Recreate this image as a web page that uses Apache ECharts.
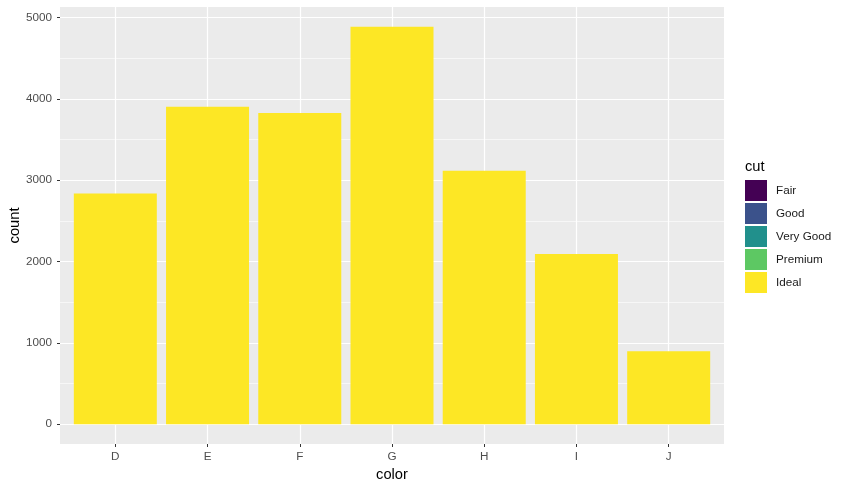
<!DOCTYPE html>
<html>
<head>
<meta charset="utf-8">
<script src="https://cdn.jsdelivr.net/npm/echarts@6/dist/echarts.min.js"></script>
<style>
  html, body { margin: 0; padding: 0; background: #fff; }
  #chart { width: 847px; height: 489px; }
</style>
</head>
<body>
<div id="chart"></div>
<script>
// x categories (diamond colour)
const colors = ['D', 'E', 'F', 'G', 'H', 'I', 'J']
// fill levels (cut) and their viridis colours
const cuts = ['Fair', 'Good', 'Very Good', 'Premium', 'Ideal']
const cutColors = ['#440154', '#3B528B', '#21908C', '#5DC863', '#FDE725']
// only the Ideal bars are visible (drawn last, on top of the others)
const idealCounts = [2834, 3903, 3826, 4884, 3115, 2093, 896]
// hidden levels: not readable from the picture, kept for the legend
const hiddenCounts = []

const yMin = -244.2 // ggplot 5% expansion
const yMax = 5128.2

const labelGrey = '#4D4D4D'
const font = 'Liberation Sans, Arial, sans-serif'

const chart = echarts.init(document.getElementById('chart'))

const option = {
  animation: false,
  textStyle: { fontFamily: font },
  title: {
    text: 'cut',
    left: 745,
    top: 159,
    padding: 0,
    textStyle: { fontSize: 14.7, fontWeight: 'normal', color: '#000', fontFamily: font }
  },
  legend: {
    orient: 'vertical',
    left: 745,
    top: 180,
    padding: 0,
    itemWidth: 22,
    itemHeight: 21,
    itemGap: 2,
    icon: 'rect',
    selectedMode: false,
    data: cuts,
    textStyle: { fontSize: 11.7, color: '#1A1A1A', padding: [0, 0, 0, 4], fontFamily: font }
  },
  grid: [
    // panel
    { left: 60, right: 123, top: 7, bottom: 45, show: true, backgroundColor: '#EBEBEB', borderWidth: 0, outerBoundsMode: 'none' },
    // bars (inset by ggplot's 0.6 discrete expansion vs echarts' 0.5)
    { left: 69.2, right: 132.2, top: 7, bottom: 45, show: false, outerBoundsMode: 'none' }
  ],
  xAxis: [
    {
      // category centres on the panel: D = 0 ... J = 6, expanded by 0.6
      gridIndex: 0,
      type: 'value',
      min: -0.6,
      max: colors.length - 1 + 0.6,
      splitNumber: 7,
      axisLine: { show: false },
      axisTick: { show: false },
      axisLabel: { show: false },
      splitLine: { show: true, showMinLine: false, showMaxLine: false, lineStyle: { color: '#fff', width: 1.2 } }
    },
    {
      gridIndex: 1,
      type: 'category',
      data: colors,
      name: 'color',
      nameLocation: 'middle',
      nameGap: 23,
      nameMoveOverlap: false,
      nameTextStyle: { fontSize: 14.7, color: '#000', fontFamily: font },
      axisLine: { show: false, onZero: false },
      axisTick: { show: true, alignWithLabel: true, length: 3, lineStyle: { color: '#333', width: 1 } },
      axisLabel: { color: labelGrey, fontSize: 11.7, margin: 7, fontFamily: font },
      splitLine: { show: false }
    }
  ],
  yAxis: [
    {
      gridIndex: 0,
      type: 'value',
      min: yMin,
      max: yMax,
      name: 'count',
      nameLocation: 'middle',
      nameRotate: 90,
      nameGap: 38,
      nameMoveOverlap: false,
      nameTextStyle: { fontSize: 14.7, color: '#000', fontFamily: font },
      axisLine: { show: false, onZero: false },
      axisTick: { show: true, length: 3, lineStyle: { color: '#333', width: 1 } },
      axisLabel: {
        color: labelGrey, fontSize: 11.7, margin: 8, showMinLabel: false, showMaxLabel: false, fontFamily: font,
        formatter: v => String(v)
      },
      splitLine: { show: true, showMinLine: false, showMaxLine: false, lineStyle: { color: '#fff', width: 1.2 } }
    },
    {
      // minor grid lines
      gridIndex: 0,
      type: 'value',
      position: 'right',
      min: yMin,
      max: yMax,
      splitNumber: 10,
      axisLine: { show: false },
      axisTick: { show: false },
      axisLabel: { show: false },
      splitLine: { show: true, showMinLine: false, showMaxLine: false, lineStyle: { color: '#fff', width: 0.6 } }
    },
    { gridIndex: 1, type: 'value', min: yMin, max: yMax, show: false, splitLine: { show: false } }
  ],
  series: cuts.map((cut, i) => ({
    name: cut,
    type: 'bar',
    xAxisIndex: 1,
    yAxisIndex: 2,
    barWidth: '90%',
    barGap: '-100%',
    itemStyle: { color: cutColors[i] },
    data: cut === 'Ideal' ? idealCounts : hiddenCounts
  }))
}

option && chart.setOption(option)
</script>
</body>
</html>
